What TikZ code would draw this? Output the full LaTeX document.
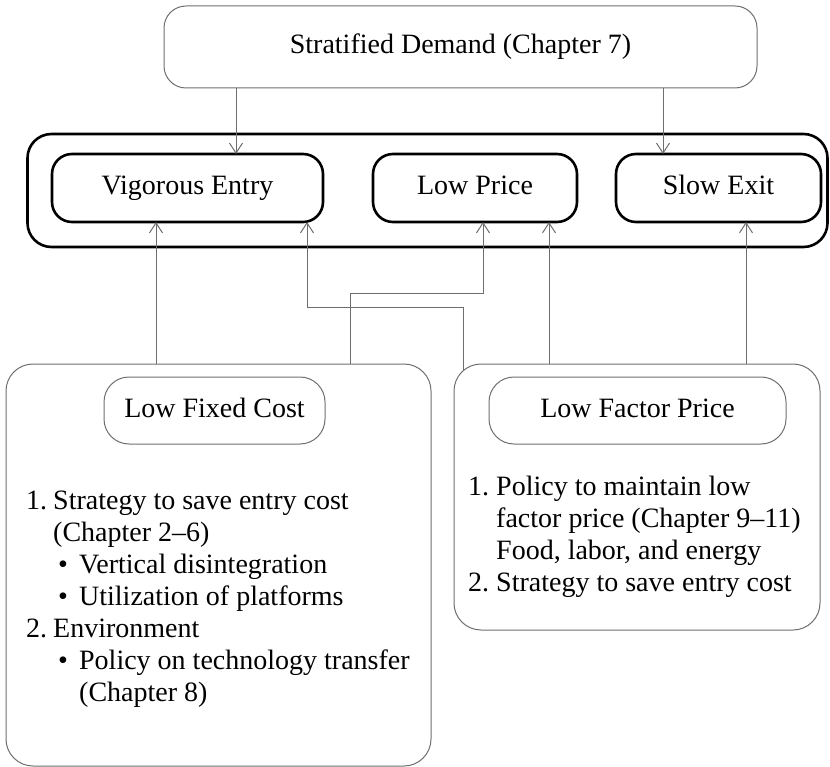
\documentclass[tikz,border=0pt]{standalone}
\usepackage{fontspec}
\setmainfont{Liberation Serif}
\usetikzlibrary{arrows.meta,calc}
\definecolor{linegray}{HTML}{6E6E6E}
\tikzset{
  lbl/.style={font=\fontsize{28}{32}\selectfont, text=black},
  lst/.style={lbl, anchor=base west, inner sep=0pt},
  boxtext/.style={lbl, text height=19pt, text depth=6pt},
  thinbox/.style={draw=linegray, line width=1pt, rounded corners=#1, inner sep=0pt, outer sep=0pt, boxtext},
  thinbox/.default=22pt,
  thickbox/.style={draw=black, line width=2.6pt, rounded corners=#1, inner sep=0pt, outer sep=0pt, boxtext},
  thickbox/.default=20pt,
  arr/.style={draw=linegray, line width=1pt, -{Straight Barb[length=10pt,width=13pt]}}
}
\begin{document}
\begin{tikzpicture}[x=1pt,y=-1pt]
\useasboundingbox (0,0) rectangle (830,767);

% top demand box
\node[thinbox, minimum width=593pt, minimum height=82pt] (top) at (460.5,47) {Stratified Demand (Chapter 7)};

% container and outcome boxes
\node[thickbox=24pt, minimum width=800pt, minimum height=113pt] (cont) at (427.5,190.5) {};
\node[thickbox, minimum width=271pt, minimum height=68pt] (ve) at (187.5,188) {Vigorous Entry};
\node[thickbox, minimum width=204pt, minimum height=68pt] (lp) at (475,188) {Low Price};
\node[thickbox, minimum width=205pt, minimum height=68pt] (se) at (718.5,188) {Slow Exit};

% lower boxes
\node[thinbox=27pt, minimum width=425pt, minimum height=402pt] (lfc) at (218.5,565) {};
\node[thinbox=25pt, minimum width=221pt, minimum height=67pt] (lfci) at (214.5,410.5) {Low Fixed Cost};
\node[thinbox=27pt, minimum width=366pt, minimum height=266pt] (lfp) at (637,497) {};
\node[thinbox=25pt, minimum width=297pt, minimum height=67pt] (lfpi) at (637.5,410.5) {Low Factor Price};

% left list
\node[lst] (a1) at (26,509) {\makebox[27pt][l]{1.}Strategy to save entry cost};
\node[lst] (a2) at (53,541) {(Chapter 2--6)};
\node[lst] (a3) at (58,573) {\makebox[21pt][l]{•}Vertical disintegration};
\node[lst] (a4) at (58,605) {\makebox[21pt][l]{•}Utilization of platforms};
\node[lst] (a5) at (26,637) {\makebox[27pt][l]{2.}Environment};
\node[lst] (a6) at (58,669) {\makebox[21pt][l]{•}Policy on technology transfer};
\node[lst] (a7) at (79,701) {(Chapter 8)};

% right list
\node[lst] (b1) at (468,495) {\makebox[28pt][l]{1.}Policy to maintain low};
\node[lst] (b2) at (496,527) {factor price (Chapter 9--11)};
\node[lst] (b3) at (496,559) {Food, labor, and energy};
\node[lst] (b4) at (468,591) {\makebox[28pt][l]{2.}Strategy to save entry cost};

% connectors from demand
\draw[arr] (top.south -| 236,0) -- (ve.north -| 236,0);
\draw[arr] (top.south -| 663,0) -- (se.north -| 663,0);

% connectors from low fixed cost
\draw[arr] (lfc.north -| 156,0) -- (ve.south -| 156,0);
\draw[arr] (lfc.north -| 350,0) -- (350,294) -- (483,294) -- (lp.south -| 483,0);

% connectors from low factor price
\coordinate (lfpc) at ([shift={(9,6)}]lfp.north west);
\draw[arr] (lfpc) -- (lfpc |- 0,308) -- (307,308) -- (ve.south -| 307,0);
\draw[arr] (lfp.north -| 549,0) -- (lp.south -| 549,0);
\draw[arr] (lfp.north -| 746,0) -- (se.south -| 746,0);
\end{tikzpicture}
\end{document}
